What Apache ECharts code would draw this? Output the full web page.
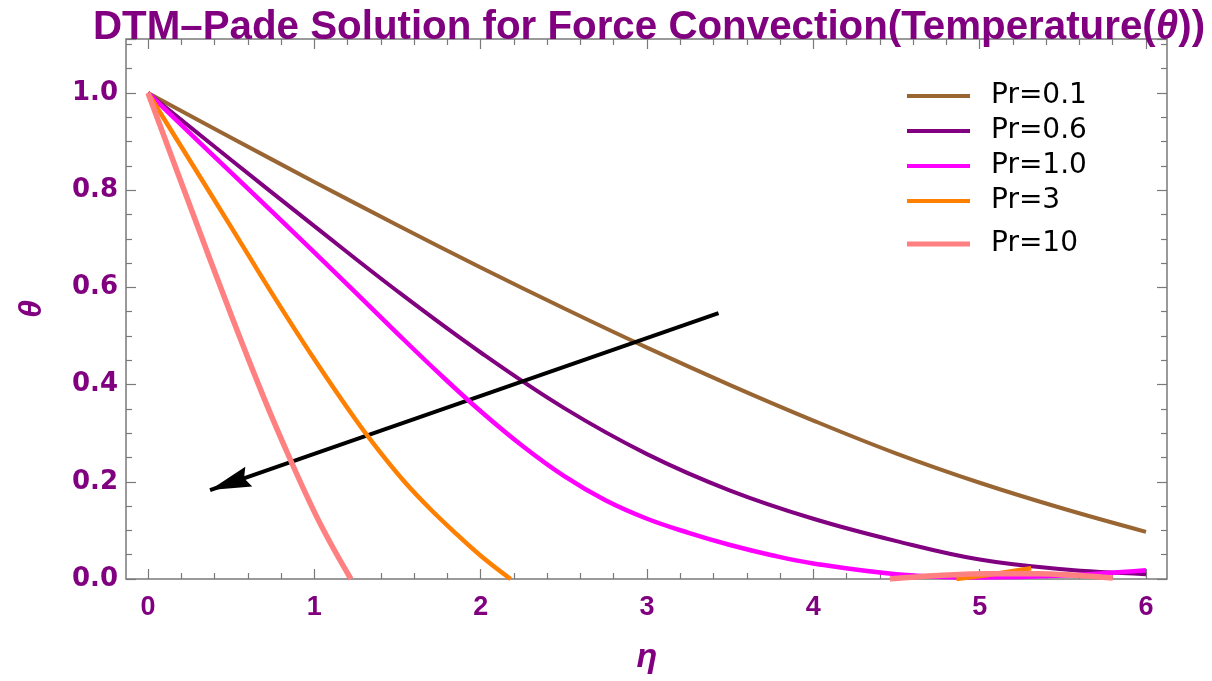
<!DOCTYPE html>
<html>
<head>
<meta charset="utf-8">
<script src="https://cdn.jsdelivr.net/npm/echarts@6/dist/echarts.min.js"></script>
<style>
  html, body { margin: 0; padding: 0; background: #ffffff; }
  #chart { width: 1212px; height: 681px; }
</style>
</head>
<body>
<div id="chart"></div>
<script>
// Temperature profiles theta(eta) for several Prandtl numbers
const seriesNames = ['Pr=0.1', 'Pr=0.6', 'Pr=1.0', 'Pr=3', 'Pr=10'];

const etaFull   = [0, 0.5, 1, 1.5, 2, 2.5, 3, 3.5, 4, 4.5, 5, 5.5, 6];
const thetaPr01 = [1, 0.908, 0.817, 0.728, 0.641, 0.557, 0.476, 0.399, 0.326, 0.258, 0.198, 0.145, 0.097];
const thetaPr06 = [1, 0.862, 0.726, 0.592, 0.466, 0.352, 0.257, 0.182, 0.124, 0.078, 0.04, 0.02, 0.01];

const etaPr1   = [0, 0.5, 1, 1.5, 1.75, 2, 2.25, 2.5, 2.75, 3, 3.25, 3.5, 3.75, 4, 4.5, 5, 5.5, 6];
const thetaPr1 = [1, 0.836, 0.672, 0.505, 0.423, 0.345, 0.274, 0.212, 0.162, 0.124, 0.095, 0.07, 0.049, 0.032, 0.01, 0.003, 0.007, 0.018];

const etaPr3   = [0, 0.25, 0.5, 0.75, 1, 1.25, 1.4, 1.55, 1.7, 1.85, 2, 2.18];
const thetaPr3 = [1, 0.862, 0.724, 0.585, 0.452, 0.327, 0.259, 0.197, 0.143, 0.094, 0.048, 0.0];
const etaPr3Tail   = [4.86, 5.1, 5.31];
const thetaPr3Tail = [0.0, 0.011, 0.022];

const etaPr10   = [0, 0.25, 0.5, 0.7, 0.85, 1, 1.1, 1.22];
const thetaPr10 = [1, 0.77, 0.543, 0.37, 0.25, 0.138, 0.072, 0.0];
const etaPr10Tail   = [4.46, 4.75, 5.05, 5.35, 5.6, 5.8];
const thetaPr10Tail = [0.0, 0.007, 0.011, 0.011, 0.007, 0.002];

// Arrow showing the direction of increasing Pr (eta, theta)
const arrowFrom = [3.43, 0.547];
const arrowTo   = [0.373, 0.183];

const colors = ['#996633', '#800080', '#ff00ff', '#ff8000', '#ff8080'];
const widths = [4, 4, 4.5, 4.5, 5.5];
const purple = '#800080';
const frameColor = '#7a7a7a';
const font = '"Liberation Sans", Arial, Helvetica, sans-serif';
const narrowFont = '"Liberation Sans Narrow", "Arial Narrow", "Liberation Sans", Arial, sans-serif';
const wideFont = '"DejaVu Sans", Verdana, sans-serif';
const thetaMax = 1.111;

function pairs(xs, ys) {
  return xs.map((x, i) => [x, ys[i]]);
}
function withTail(head, tail) {
  return head.concat([['-', '-']], tail);
}

const curveData = [
  pairs(etaFull, thetaPr01),
  pairs(etaFull, thetaPr06),
  pairs(etaPr1, thetaPr1),
  withTail(pairs(etaPr3, thetaPr3), pairs(etaPr3Tail, thetaPr3Tail)),
  withTail(pairs(etaPr10, thetaPr10), pairs(etaPr10Tail, thetaPr10Tail))
];

const series = seriesNames.map((name, i) => ({
  name: name,
  type: 'line',
  xAxisIndex: 1,
  yAxisIndex: 1,
  data: curveData[i],
  smooth: 0.4,
  connectNulls: false,
  showSymbol: false,
  symbol: 'none',
  color: colors[i],
  lineStyle: { color: colors[i], width: widths[i] },
  emphasis: { disabled: true },
  z: 3 + i
}));

series.push({
  name: 'arrow',
  type: 'line',
  xAxisIndex: 1,
  yAxisIndex: 1,
  data: [],
  z: 10,
  markLine: {
    silent: true,
    animation: false,
    symbol: ['none', 'path://M0,0 L10.5,41 L0,36 L-10.5,41 Z'],
    symbolSize: [21, 41],
    symbolOffset: [0, [0, '50%']],
    label: { show: false },
    emphasis: { disabled: true },
    lineStyle: { color: '#000000', width: 4, type: 'solid' },
    itemStyle: { color: '#000000' },
    data: [[{ coord: arrowFrom }, { coord: arrowTo }]]
  }
});

const tickStyle = { color: frameColor, width: 1.2 };
const noLine = { show: false, onZero: false };

const legendBase = {
  orient: 'vertical',
  left: 902,
  icon: 'rect',
  itemWidth: 63,
  itemGap: 7,
  selectedMode: false,
  textStyle: { fontSize: 28, color: '#000000', fontFamily: wideFont, padding: [0, 0, 0, 16] }
};

const option = {
  animation: false,
  backgroundColor: '#ffffff',
  title: {
    text: '{t|DTM–Pade Solution for Force Convection(Temperature(}{i|θ}{t|))}',
    left: 88,
    top: 3,
    textStyle: {
      rich: {
        t: { fontSize: 40.3, fontWeight: 'bold', color: purple, fontFamily: font },
        i: { fontSize: 40.3, fontWeight: 'bold', fontStyle: 'italic', color: purple, fontFamily: font }
      }
    }
  },
  legend: [
    Object.assign({}, legendBase, { data: seriesNames.slice(0, 4), top: 77, itemHeight: 4 }),
    Object.assign({}, legendBase, { data: seriesNames.slice(4), top: 225, itemHeight: 5 })
  ],
  grid: [
    // plot frame
    { left: 126, right: 45, top: 39, bottom: 102, show: true, borderColor: frameColor, borderWidth: 1.5, backgroundColor: 'transparent' },
    // data area
    { left: 148, right: 66, top: 39, bottom: 102 }
  ],
  xAxis: [
    { gridIndex: 0, type: 'value', show: false, min: 0, max: 1, axisLine: noLine },
    {
      gridIndex: 1, type: 'value', min: 0, max: 6, interval: 1, position: 'bottom',
      axisLine: noLine, splitLine: { show: false },
      axisTick: { inside: true, length: 10, lineStyle: tickStyle },
      minorTick: { show: true, splitNumber: 5, length: 6, lineStyle: tickStyle },
      axisLabel: { fontSize: 27, margin: 15, color: purple, fontWeight: 'bold', fontFamily: narrowFont },
      name: 'η', nameLocation: 'middle', nameGap: 62,
      nameTextStyle: { fontSize: 34, fontWeight: 'bold', fontStyle: 'italic', color: purple, fontFamily: font }
    },
    {
      gridIndex: 1, type: 'value', min: 0, max: 6, interval: 1, position: 'top',
      axisLine: noLine, splitLine: { show: false },
      axisTick: { inside: true, length: 10, lineStyle: tickStyle },
      minorTick: { show: true, splitNumber: 5, length: 6, lineStyle: tickStyle },
      axisLabel: { show: false }
    }
  ],
  yAxis: [
    { gridIndex: 0, type: 'value', show: false, min: 0, max: 1, axisLine: noLine },
    {
      gridIndex: 1, type: 'value', min: 0, max: thetaMax, interval: 0.2, position: 'left', offset: 22,
      axisLine: noLine, splitLine: { show: false },
      axisTick: { inside: true, length: 10, lineStyle: tickStyle },
      minorTick: { show: true, splitNumber: 4, length: 6, lineStyle: tickStyle },
      axisLabel: { fontSize: 26, margin: 8, showMaxLabel: false, color: purple, fontWeight: 'bold', fontFamily: wideFont, formatter: v => v.toFixed(1) },
      name: 'θ', nameLocation: 'middle', nameGap: 78,
      nameTextStyle: { fontSize: 32, fontWeight: 'bold', fontStyle: 'italic', color: purple, fontFamily: font }
    },
    {
      gridIndex: 1, type: 'value', min: 0, max: thetaMax, interval: 0.2, position: 'right', offset: 21,
      axisLine: noLine, splitLine: { show: false },
      axisTick: { inside: true, length: 10, lineStyle: tickStyle },
      minorTick: { show: true, splitNumber: 4, length: 6, lineStyle: tickStyle },
      axisLabel: { show: false }
    }
  ],
  series: series
};

const chart = echarts.init(document.getElementById('chart'), null, { renderer: 'canvas' });
chart.setOption(option);
</script>
</body>
</html>
